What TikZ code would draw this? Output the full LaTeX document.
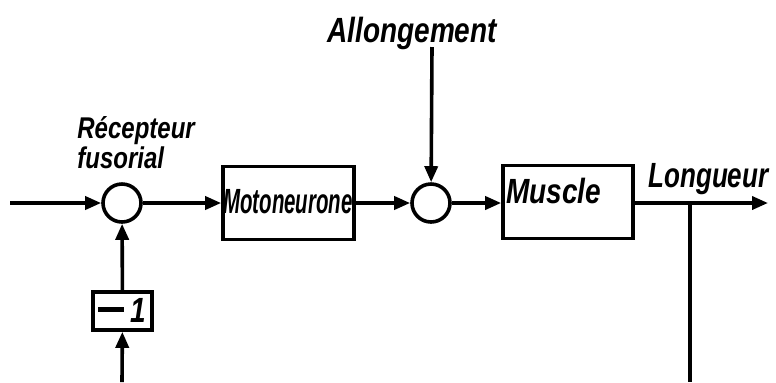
\documentclass[tikz,border=0pt]{standalone}
\usepackage{fontspec}
\usepackage{graphicx}
\newfontfamily\lblfont{Liberation Sans}[FakeStretch=0.8]
\usetikzlibrary{arrows.meta}
\tikzset{
  sig/.style={line width=1.8pt, -{Triangle[length=8pt,width=6.5pt]}},
  wire/.style={line width=1.8pt},
  sumpt/.style={circle, draw, line width=1.8pt, minimum size=19pt, inner sep=0pt},
  blockbox/.style={draw, line width=1.8pt, rectangle, inner sep=0pt},
  lbl/.style={font=\lblfont\bfseries\itshape\fontsize{17.5}{20}\selectfont, inner sep=0pt},
  smalllbl/.style={font=\lblfont\bfseries\itshape\fontsize{15}{17}\selectfont, inner sep=0pt},
}
\begin{document}
\begin{tikzpicture}[x=0.5pt,y=-0.5pt]
\useasboundingbox (0,0) rectangle (776,382);

% summing points
\node[sumpt] (c1) at (122,203) {};
\node[sumpt] (c2) at (431,203) {};

% blocks
\node[blockbox, minimum width=65.5pt, minimum height=36.5pt] (mn) at (288.5,203) {};
\node[blockbox, minimum width=65pt, minimum height=36.5pt] (mu) at (568,202) {};
\node[blockbox, minimum width=29.5pt, minimum height=19pt] (neg) at (122.5,311) {};

% labels
\node[lbl, anchor=base] (mntxt) at (288,213) {\scalebox{0.73}[1]{Motoneurone}};
\node[lbl, anchor=base west] (mutxt) at (506,203) {Muscle};
\node[lbl, anchor=base] (negtxt) at (122,322) {\rule[0.3em]{0.75em}{0.13em}\,1};
\node[lbl, anchor=base west] (allo) at (327,42) {Allongement};
\node[lbl, anchor=base west] (lg) at (648,187) {\scalebox{0.93}[1]{Longueur}};
\node[smalllbl, anchor=base west] (rec1) at (77,138) {Récepteur};
\node[smalllbl, anchor=base west] (rec2) at (77,168) {fusorial};

% free ends
\coordinate (inL) at (10,203);
\coordinate (outR) at (768,203);
\coordinate (allTop) at (432,47);
\coordinate (br) at (690,203);
\coordinate (brEnd) at (690,382);
\coordinate (fbIn) at (122,382);

% signal flow
\draw[sig] (inL) -- (c1);
\draw[sig] (c1) -- (mn);
\draw[sig] (mn) -- (c2);
\draw[sig] (c2) -- (mu.west |- c2);
\draw[sig] (mu.east |- c2) -- (outR);
\draw[sig] (allTop) -- (c2);
\draw[wire] (br) -- (brEnd);
\draw[sig] (fbIn) -- (neg);
\draw[sig] (neg) -- (c1);
\end{tikzpicture}
\end{document}
